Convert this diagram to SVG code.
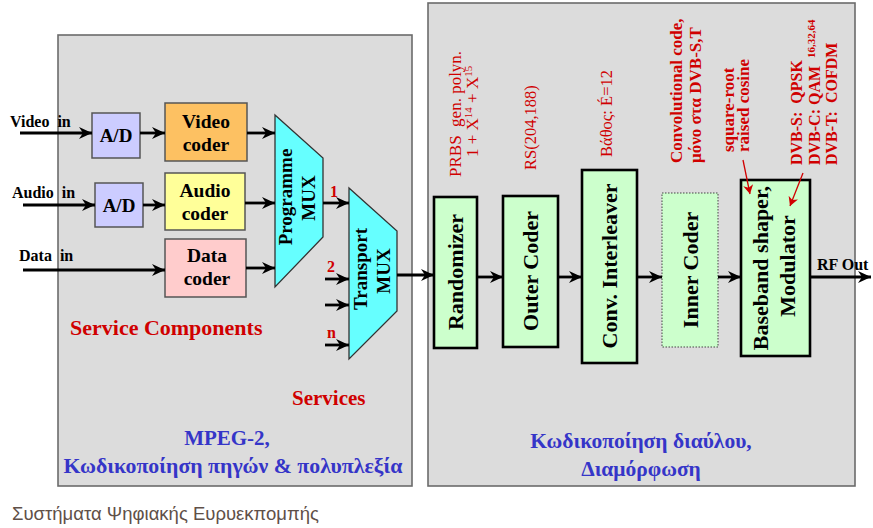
<svg xmlns="http://www.w3.org/2000/svg" width="873" height="528" viewBox="0 0 873 528">
<style>
.panel{fill:#dcdcdc;stroke:#6b6b6b;stroke-width:1.6}
.t{font-family:"Liberation Serif","Times New Roman",serif;font-weight:bold;fill:#000}
.box{stroke:#555;stroke-width:1.5}
.g{fill:#ccffcc;stroke:#000;stroke-width:2.6}
.mux{fill:#66ffff;stroke:#333;stroke-width:1.3}
.red{font-family:"Liberation Serif","Times New Roman",serif;fill:#d00000;white-space:pre}
.blue{font-family:"Liberation Serif","Times New Roman",serif;font-weight:bold;fill:#3535c8}
.arr{stroke:#000;stroke-width:2.8;fill:none;marker-end:url(#ah)}
.rarr{stroke:#d00000;stroke-width:1.3;fill:none;marker-end:url(#rah)}
</style>
<defs>
<marker id="ah" markerUnits="userSpaceOnUse" markerWidth="14" markerHeight="14" refX="13" refY="7" orient="auto">
<path d="M0,1 L13,7 L0,13 L4,7 z" fill="#000"/>
</marker>
<marker id="rah" markerUnits="userSpaceOnUse" markerWidth="10" markerHeight="10" refX="9" refY="5" orient="auto">
<path d="M0,0 L9,5 L0,10 L2.5,5 z" fill="#d00000"/>
</marker>
</defs>
<rect width="873" height="528" fill="#fff"/>
<g id="panel-source">
<rect class="panel" x="58" y="35" width="354" height="451"/>
<text class="red" x="70" y="335" font-size="22" font-weight="bold">Service Components</text>
<text class="red" x="292" y="405" font-size="21" font-weight="bold">Services</text>
<text class="blue" x="227" y="445" font-size="21" text-anchor="middle">MPEG-2,</text>
<text class="blue" x="233" y="473" font-size="21.8" text-anchor="middle">Κωδικοποίηση πηγών &amp; πολυπλεξία</text>
</g>
<g id="panel-channel">
<rect class="panel" x="428" y="3" width="427" height="483"/>
<text class="blue" x="641" y="448" font-size="21.5" text-anchor="middle">Κωδικοποίηση διαύλου,</text>
<text class="blue" x="641" y="476" font-size="21.5" text-anchor="middle">Διαμόρφωση</text>
</g>
<g id="labels">
<text class="t" x="10" y="127" font-size="16" word-spacing="4">Video in</text>
<text class="t" x="12" y="198" font-size="16" word-spacing="4">Audio in</text>
<text class="t" x="19" y="261" font-size="16" word-spacing="4">Data in</text>
<text class="red" x="330" y="197" font-size="16" font-weight="bold">1</text>
<text class="red" x="327" y="272" font-size="16" font-weight="bold">2</text>
<text class="red" x="327" y="338" font-size="16" font-weight="bold">n</text>
<text class="t" x="817" y="270" font-size="16">RF Out</text>
<text class="red" font-size="17" transform="translate(461,177) rotate(-90)">PRBS  gen. polyn.</text>
<text class="red" font-size="17" transform="translate(478,157) rotate(-90)">1 + X<tspan dy="-6" font-size="11">14</tspan><tspan dy="6"> + X</tspan><tspan dy="-6" font-size="11">15</tspan></text>
<text class="red" font-size="16.5" transform="translate(536,170) rotate(-90)">RS(204,188)</text>
<text class="red" font-size="16.5" transform="translate(612,157) rotate(-90)">Βάθος: É=12</text>
<text class="red" font-size="17" font-weight="bold" transform="translate(682,163) rotate(-90)">Convolutional code,</text>
<text class="red" font-size="17" font-weight="bold" transform="translate(701,163) rotate(-90)">μόνο στα DVB-S,T</text>
<text class="red" font-size="17" font-weight="bold" transform="translate(734,152) rotate(-90)">square-root</text>
<text class="red" font-size="17" font-weight="bold" transform="translate(749,152) rotate(-90)">raised cosine</text>
<text class="red" font-size="16" font-weight="bold" transform="translate(802,165) rotate(-90)">DVB-S:  QPSK</text>
<text class="red" font-size="16" font-weight="bold" transform="translate(820,165) rotate(-90)">DVB-C: QAM  <tspan dy="-5" font-size="11">16,32,64</tspan></text>
<text class="red" font-size="16" font-weight="bold" transform="translate(837,165) rotate(-90)">DVB-T:  COFDM</text>
</g>
<g id="ad-video">
<rect class="box" x="92" y="113" width="48" height="45" fill="#ccccff"/>
<text class="t" x="116" y="142" font-size="19" text-anchor="middle">A/D</text>
</g>
<g id="video-coder">
<rect class="box" x="165" y="103" width="82" height="58" fill="#fdc162"/>
<text class="t" x="206" y="128" font-size="19.5" text-anchor="middle">Video</text>
<text class="t" x="206" y="151" font-size="19.5" text-anchor="middle">coder</text>
</g>
<g id="ad-audio">
<rect class="box" x="95" y="183" width="48" height="44" fill="#ccccff"/>
<text class="t" x="119" y="212" font-size="19" text-anchor="middle">A/D</text>
</g>
<g id="audio-coder">
<rect class="box" x="165" y="173" width="80" height="57" fill="#ffff99"/>
<text class="t" x="205" y="197" font-size="19.5" text-anchor="middle">Audio</text>
<text class="t" x="205" y="220" font-size="19.5" text-anchor="middle">coder</text>
</g>
<g id="data-coder">
<rect class="box" x="165" y="239" width="81" height="58" fill="#ffcccc"/>
<text class="t" x="207" y="262" font-size="19.5" text-anchor="middle">Data</text>
<text class="t" x="207" y="285" font-size="19.5" text-anchor="middle">coder</text>
</g>
<g id="programme-mux">
<polygon class="mux" points="275,115 323,158 323,237 275,287"/>
<text class="t" font-size="19" text-anchor="middle" transform="translate(292,197) rotate(-90)">Programme</text>
<text class="t" font-size="19" text-anchor="middle" transform="translate(315,198) rotate(-90)">MUX</text>
</g>
<g id="transport-mux">
<polygon class="mux" points="349,188 397,231 397,311 349,359"/>
<text class="t" font-size="19" text-anchor="middle" transform="translate(367,269) rotate(-90)">Transport</text>
<text class="t" font-size="19" text-anchor="middle" transform="translate(390,271) rotate(-90)">MUX</text>
</g>
<g id="randomizer">
<rect class="g" x="434" y="197" width="43" height="151"/>
<text class="t" font-size="22" text-anchor="middle" transform="translate(463,272) rotate(-90)">Randomizer</text>
</g>
<g id="outer-coder">
<rect class="g" x="503" y="196" width="55" height="151"/>
<text class="t" font-size="22" text-anchor="middle" transform="translate(538,271) rotate(-90)">Outer Coder</text>
</g>
<g id="conv-interleaver">
<rect class="g" x="582" y="170" width="55" height="193"/>
<text class="t" font-size="22" text-anchor="middle" transform="translate(617,266) rotate(-90)">Conv. Interleaver</text>
</g>
<g id="inner-coder">
<rect x="662" y="193" width="56" height="154" fill="#ccffcc" stroke="#444" stroke-width="1" stroke-dasharray="1.5,1.5"/>
<text class="t" font-size="22" text-anchor="middle" transform="translate(698,270) rotate(-90)">Inner Coder</text>
</g>
<g id="modulator">
<rect class="g" x="741" y="180" width="69" height="176"/>
<text class="t" font-size="22" text-anchor="middle" transform="translate(768,268) rotate(-90)">Baseband shaper,</text>
<text class="t" font-size="22" text-anchor="middle" transform="translate(795,266) rotate(-90)">Modulator</text>
</g>
<g id="connectors">
<line class="arr" x1="20" y1="133" x2="92" y2="133"/>
<line class="arr" x1="140" y1="133" x2="165" y2="133"/>
<line class="arr" x1="23" y1="205" x2="95" y2="205"/>
<line class="arr" x1="143" y1="205" x2="165" y2="205"/>
<line class="arr" x1="23" y1="270" x2="165" y2="270"/>
<line class="arr" x1="247" y1="133" x2="275" y2="133"/>
<line class="arr" x1="245" y1="203" x2="275" y2="203"/>
<line class="arr" x1="246" y1="268" x2="275" y2="268"/>
<line class="arr" x1="323" y1="203" x2="349" y2="203"/>
<line class="arr" x1="325" y1="279" x2="349" y2="279"/>
<line class="arr" x1="325" y1="305" x2="349" y2="305"/>
<line class="arr" x1="325" y1="345" x2="349" y2="345"/>
<line class="arr" x1="397" y1="275" x2="434" y2="275"/>
<line class="arr" x1="477" y1="277" x2="503" y2="277"/>
<line class="arr" x1="558" y1="277" x2="582" y2="277"/>
<line class="arr" x1="637" y1="277" x2="662" y2="277"/>
<line class="arr" x1="718" y1="277" x2="741" y2="277"/>
<line class="arr" x1="810" y1="277" x2="871" y2="277"/>
<line class="rarr" x1="743" y1="160" x2="750" y2="194"/>
<line class="rarr" x1="803" y1="173" x2="790" y2="206"/>
</g>
<text x="12" y="520" font-family="'Liberation Sans',Arial,sans-serif" font-size="18.5" fill="#5f5048">Συστήματα Ψηφιακής Ευρυεκπομπής</text>
</svg>
